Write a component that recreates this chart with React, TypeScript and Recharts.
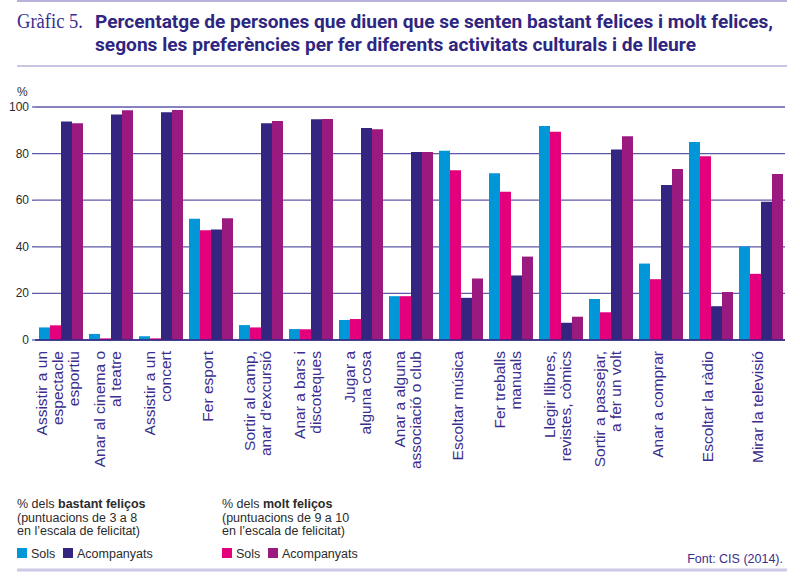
import React from 'react';
import { BarChart, Bar, XAxis, YAxis, CartesianGrid } from 'recharts';

const categories = [
  'Assistir a un\nespectacle\nesportiu',
  'Anar al cinema o\nal teatre',
  'Assistir a un\nconcert',
  'Fer esport',
  'Sortir al camp,\nanar d’excursió',
  'Anar a bars i\ndiscoteques',
  'Jugar a\nalguna cosa',
  'Anar a alguna\nassociació o club',
  'Escoltar música',
  'Fer treballs\nmanuals',
  'Llegir llibres,\nrevistes, còmics',
  'Sortir a passejar,\na fer un volt',
  'Anar a comprar',
  'Escoltar la ràdio',
  'Mirar la televisió',
];

const solsBastant = [5.4, 2.6, 1.6, 52.0, 6.4, 4.7, 8.6, 18.8, 81.2, 71.6, 91.8, 17.6, 32.8, 85.0, 40.1];
const solsMolt = [6.3, 0.7, 0.7, 47.1, 5.4, 4.6, 9.0, 18.8, 72.9, 63.6, 89.4, 11.9, 26.1, 78.9, 28.4];
const acompBastant = [93.8, 96.8, 97.7, 47.4, 93.0, 94.7, 91.0, 80.7, 18.1, 27.7, 7.4, 81.8, 66.5, 14.5, 59.3];
const acompMolt = [93.0, 98.6, 98.7, 52.3, 94.0, 94.8, 90.4, 80.7, 26.4, 35.8, 10.0, 87.5, 73.4, 20.6, 71.2];

const yTicks = [0, 20, 40, 60, 80, 100];

const C_SOLS_B = '#0096d7';
const C_SOLS_M = '#e4007d';
const C_ACOMP_B = '#342581';
const C_ACOMP_M = '#9b1a80';
const NAVY = '#3a2d8e';
const GRID = '#5e58a8';
const RULE = '#b7b2da';

const data = categories.map((name, i) => ({
  name,
  solsBastant: solsBastant[i],
  solsMolt: solsMolt[i],
  acompBastant: acompBastant[i],
  acompMolt: acompMolt[i],
}));

const XTick = (props: any) => {
  const { x, y, payload } = props;
  const lines = String(payload.value).split('\n');
  const n = lines.length;
  return (
    <text
      transform={`translate(${x},${y}) rotate(-90)`}
      textAnchor="end"
      fontFamily="'Liberation Sans', Arial, sans-serif"
      fontSize={15.5}
      fill={NAVY}
    >
      {lines.map((l, i) => (
        <tspan key={i} x={0} y={(i - (n - 1) / 2) * 16 + 3}>
          {l}
        </tspan>
      ))}
    </text>
  );
};

const YTick = (props: any) => {
  const { y, payload } = props;
  return (
    <text x={29} y={y} dy={4} textAnchor="end" fontFamily="'Liberation Sans', Arial, sans-serif" fontSize={12} fill="#2b2b2b">
      {payload.value}
    </text>
  );
};

const sans = "'Liberation Sans', Arial, sans-serif";

export default function App() {
  return (
    <div style={{ position: 'absolute', left: 0, top: 0, width: 800, height: 576, background: '#fff', overflow: 'hidden' }}>
      <BarChart
        width={800}
        height={576}
        data={data}
        margin={{ top: 107, right: 15, bottom: 0, left: 0 }}
        barCategoryGap={4}
        barGap={0}
      >
        <CartesianGrid vertical={false} stroke={GRID} strokeWidth={1.3} />
        <YAxis
          width={35}
          domain={[0, 100]}
          ticks={yTicks}
          axisLine={false}
          tickLine={{ stroke: GRID, strokeWidth: 1.3 }}
          tickSize={3}
          tick={<YTick />}
          interval={0}
        />
        <XAxis
          dataKey="name"
          height={236}
          interval={0}
          tickLine={false}
          tickSize={0}
          tickMargin={11}
          axisLine={{ stroke: '#32287f', strokeWidth: 1.6 }}
          tick={<XTick />}
        />
        <Bar dataKey="solsBastant" fill={C_SOLS_B} isAnimationActive={false} />
        <Bar dataKey="solsMolt" fill={C_SOLS_M} isAnimationActive={false} />
        <Bar dataKey="acompBastant" fill={C_ACOMP_B} isAnimationActive={false} />
        <Bar dataKey="acompMolt" fill={C_ACOMP_M} isAnimationActive={false} />
      </BarChart>

      <svg width={800} height={576} style={{ position: 'absolute', left: 0, top: 0, pointerEvents: 'none' }}>
        <line x1={17} x2={787} y1={1} y2={1} stroke={RULE} strokeWidth={2} />
        <text x={17} y={28} fontFamily="'Liberation Serif', 'DejaVu Serif', serif" fontSize={20} fill={NAVY} textLength={66} lengthAdjust="spacingAndGlyphs">
          Gràfic 5.
        </text>
        <text x={95} y={28} fontFamily="Roboto, 'Liberation Sans', sans-serif" fontWeight={700} fontSize={18} fill="#2e2680" textLength={678} lengthAdjust="spacingAndGlyphs">
          Percentatge de persones que diuen que se senten bastant felices i molt felices,
        </text>
        <text x={95} y={51} fontFamily="Roboto, 'Liberation Sans', sans-serif" fontWeight={700} fontSize={18} fill="#2e2680" textLength={601} lengthAdjust="spacingAndGlyphs">
          segons les preferències per fer diferents activitats culturals i de lleure
        </text>
        <line x1={17} x2={787} y1={66} y2={66} stroke={RULE} strokeWidth={1.5} />

        <text x={17} y={96} fontFamily={sans} fontSize={12} fill="#2b2b2b">%</text>

        <g fontFamily={sans} fontSize={12.5} fill="#2b2b2b">
          <text x={17} y={508}>
            % dels <tspan fontWeight={700}>bastant feliços</tspan>
          </text>
          <text x={17} y={521.5}>(puntuacions de 3 a 8</text>
          <text x={17} y={535}>en l’escala de felicitat)</text>
          <rect x={17} y={548} width={10} height={10} fill={C_SOLS_B} />
          <text x={31} y={558}>Sols</text>
          <rect x={63} y={548} width={10} height={10} fill={C_ACOMP_B} />
          <text x={77} y={558}>Acompanyats</text>

          <text x={222} y={508}>
            % dels <tspan fontWeight={700}>molt feliços</tspan>
          </text>
          <text x={222} y={521.5}>(puntuacions de 9 a 10</text>
          <text x={222} y={535}>en l’escala de felicitat)</text>
          <rect x={222} y={548} width={10} height={10} fill={C_SOLS_M} />
          <text x={236} y={558}>Sols</text>
          <rect x={268} y={548} width={10} height={10} fill={C_ACOMP_M} />
          <text x={282} y={558}>Acompanyats</text>
        </g>
        <text x={783} y={563} textAnchor="end" fontFamily={sans} fontSize={12.5} fill={NAVY}>Font: CIS (2014).</text>
        <line x1={17} x2={787} y1={570} y2={570} stroke="#cdc9e6" strokeWidth={3} />
      </svg>
    </div>
  );
}
